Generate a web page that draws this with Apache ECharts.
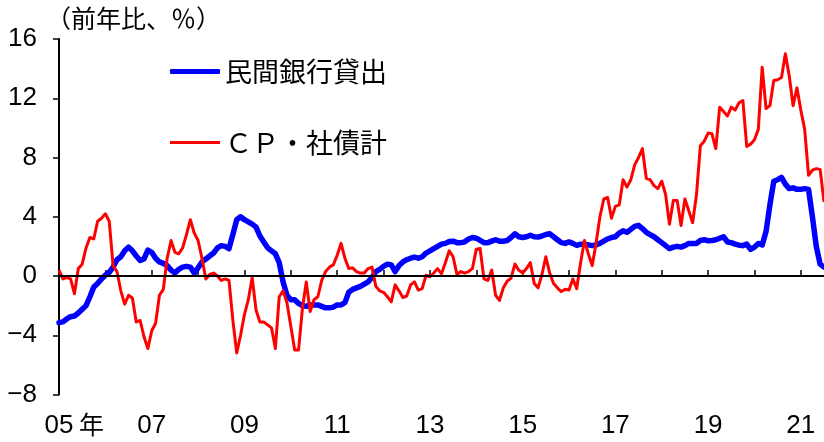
<!DOCTYPE html>
<html>
<head>
<meta charset="utf-8">
<script src="https://cdn.jsdelivr.net/npm/echarts@6/dist/echarts.min.js"></script>
<style>
  html, body { margin: 0; padding: 0; background: #fff; }
  #chart { width: 824px; height: 442px; }
</style>
</head>
<body>
<div id="chart"></div>
<script>
// 月次カテゴリ（2005年1月〜2021年7月）
const months = []
for (let i = 0; i < 199; i++) {
  months.push((2005 + Math.floor(i / 12)) + '/' + (i % 12 + 1))
}

// 横軸の年ラベル（2年おき）
const yearLabels = ['05', '07', '09', '11', '13', '15', '17', '19', '21']
const yTicks = [-8, -4, 0, 4, 8, 12, 16]

// 民間銀行貸出（前年比、%）
const bankLoans = [
  -3.15, -3.1, -2.9, -2.75, -2.7, -2.5, -2.25, -2.0, -1.4, -0.75, -0.5, -0.2,
  0.05, 0.25, 0.6, 1.1, 1.3, 1.7, 1.95, 1.7, 1.35, 1.05, 1.15, 1.75,
  1.6, 1.2, 0.95, 0.85, 0.7, 0.4, 0.2, 0.45, 0.6, 0.65, 0.6, 0.2,
  0.55, 0.95, 1.15, 1.35, 1.55, 1.9, 2.05, 2.0, 1.85, 2.8, 3.8, 4.0,
  3.8, 3.65, 3.5, 3.3, 2.7, 2.3, 1.9, 1.7, 1.5, 0.9, -0.4, -1.3,
  -1.6, -1.6, -1.85, -2.0, -2.05, -1.95, -1.95, -1.95, -2.05, -2.15, -2.15, -2.1,
  -1.95, -1.95, -1.8, -1.1, -0.9, -0.8, -0.7, -0.55, -0.4, -0.1, 0.3, 0.45,
  0.65, 0.8, 0.75, 0.3, 0.7, 0.95, 1.1, 1.2, 1.28, 1.2, 1.3, 1.55,
  1.7, 1.85, 2.0, 2.15, 2.2, 2.33, 2.35, 2.25, 2.25, 2.3, 2.5, 2.6,
  2.55, 2.4, 2.25, 2.25, 2.35, 2.45, 2.35, 2.35, 2.4, 2.6, 2.85, 2.65,
  2.6, 2.65, 2.75, 2.65, 2.63, 2.7, 2.8, 2.85, 2.65, 2.45, 2.25, 2.2,
  2.3, 2.2, 2.07, 2.15, 2.15, 2.1, 2.05, 2.1, 2.2, 2.35, 2.5, 2.6,
  2.65, 2.9, 3.05, 2.95, 3.15, 3.35, 3.42, 3.2, 2.95, 2.8, 2.65, 2.45,
  2.25, 2.05, 1.85, 1.95, 2.0, 1.95, 2.05, 2.2, 2.2, 2.2, 2.4, 2.45,
  2.38, 2.4, 2.45, 2.55, 2.65, 2.3, 2.25, 2.15, 2.08, 2.05, 2.15, 1.8,
  1.95, 2.2, 2.1, 3.0, 4.8, 6.4, 6.5, 6.65, 6.2, 5.9, 5.95, 5.85,
  5.85, 5.9, 5.85, 4.0, 2.0, 0.8, 0.6
]

// CP・社債計（前年比、%）
const cpBonds = [
  0.4, -0.2, -0.1, -0.2, -1.2, 0.5, 0.8, 1.9, 2.6, 2.5, 3.7, 3.9,
  4.2, 3.7, 0.7, 0.3, -1.0, -1.9, -1.3, -1.5, -3.1, -3.0, -4.1, -4.9,
  -3.7, -3.2, -1.3, -0.9, 1.2, 2.4, 1.6, 1.5, 1.9, 2.8, 3.8, 2.9,
  2.4, 1.2, -0.2, 0.1, 0.2, 0.0, -0.3, -0.2, -0.3, -3.0, -5.2, -4.0,
  -2.6, -1.6, -0.1, -2.3, -3.1, -3.1, -3.3, -3.5, -4.9, -1.4, -1.0, -1.8,
  -3.4, -5.0, -5.0, -2.2, -0.4, -2.4, -1.6, -1.4, -0.3, 0.3, 0.6, 0.75,
  1.4, 2.2, 1.2, 0.5, 0.55, 0.3, 0.2, 0.2, 0.5, 0.6, -0.7, -1.0,
  -1.1, -1.4, -1.75, -0.6, -1.0, -1.45, -1.35, -0.6, -0.4, -0.95, -0.85, 0.05,
  -0.05, 0.2, 0.5, 0.15, 0.9, 1.7, 1.3, 0.1, 0.3, 0.2, 0.3, 0.5,
  1.8, 1.85, -0.2, -0.3, 0.4, -1.3, -1.65, -0.8, -0.35, -0.15, 0.8, 0.4,
  0.2, 0.5, 0.9, -0.5, -0.8, 0.1, 1.3, 0.2, -0.5, -0.8, -1.05, -0.9,
  -0.95, -0.2, -0.85, 0.9, 2.4, 1.5, 0.7, 2.2, 4.0, 5.2, 5.3, 3.9,
  4.7, 4.8, 6.5, 6.0, 6.5, 7.5, 8.0, 8.6, 6.6, 6.5, 6.1, 5.9,
  6.4, 5.5, 3.5, 5.1, 5.1, 3.4, 5.2, 4.4, 3.6, 5.5, 8.8, 9.1,
  9.65, 9.6, 8.6, 11.4, 11.1, 10.8, 11.4, 11.2, 11.7, 11.85, 8.75, 8.9,
  9.2, 9.9, 14.1, 11.3, 11.5, 13.2, 13.25, 13.4, 15.0, 13.5, 11.5, 12.7,
  11.2, 9.9, 6.8, 7.15, 7.25, 7.2, 5.0
]

const numFont = '"Liberation Sans Narrow", "Liberation Sans", Arial, sans-serif'
const jpFont = '"Noto Sans CJK JP", sans-serif'

const chart = echarts.init(document.getElementById('chart'))

const option = {
  animation: false,
  backgroundColor: '#fff',
  title: {
    text: '（前年比、％）',
    left: 46,
    top: 6,
    padding: 0,
    textStyle: {
      fontFamily: jpFont,
      fontSize: 25,
      fontWeight: 'normal',
      color: '#000'
    }
  },
  legend: [
    {
      data: ['民間銀行貸出'],
      left: 170,
      top: 58,
      padding: 0,
      icon: 'roundRect',
      itemWidth: 50,
      itemHeight: 5,
      itemGap: 8,
      textStyle: { fontFamily: jpFont, fontSize: 27, color: '#000' }
    },
    {
      data: ['ＣＰ・社債計'],
      left: 170,
      top: 129,
      padding: 0,
      icon: 'rect',
      itemWidth: 50,
      itemHeight: 3,
      itemGap: 8,
      textStyle: { fontFamily: jpFont, fontSize: 27, color: '#000' }
    }
  ],
  grid: {
    left: 59,
    right: 0,
    top: 39,
    bottom: 47.5,
    containLabel: false
  },
  xAxis: {
    type: 'category',
    data: months,
    boundaryGap: false,
    axisLine: { lineStyle: { color: '#000', width: 2 } },
    axisTick: {
      inside: true,
      length: 6,
      interval: (index) => index % 12 === 0,
      lineStyle: { color: '#000', width: 1.5 }
    },
    axisLabel: {
      interval: (index) => index % 24 === 0,
      formatter: (value, index) => yearLabels[index / 24] || '',
      margin: 18,
      fontFamily: numFont,
      fontSize: 26,
      color: '#000'
    },
    splitLine: { show: false }
  },
  yAxis: {
    type: 'value',
    min: yTicks[0],
    max: yTicks[yTicks.length - 1],
    interval: 4,
    axisLine: { show: true, lineStyle: { color: '#000', width: 2 } },
    axisTick: {
      show: true,
      length: 6,
      lineStyle: { color: '#000', width: 1.5 }
    },
    axisLabel: {
      margin: 22,
      fontFamily: numFont,
      fontSize: 26,
      color: '#000',
      formatter: (v) => (v < 0 ? '−' + Math.abs(v) : String(v))
    },
    splitLine: { show: false }
  },
  graphic: [
    {
      type: 'text',
      left: 79,
      top: 412,
      style: {
        text: '年',
        font: '25px ' + jpFont,
        fill: '#000'
      }
    }
  ],
  series: [
    {
      name: '民間銀行貸出',
      type: 'line',
      data: bankLoans,
      showSymbol: false,
      symbol: 'none',
      color: '#0000ff',
      lineStyle: { color: '#0000ff', width: 5.5, join: 'round', cap: 'round' },
      z: 2
    },
    {
      name: 'ＣＰ・社債計',
      type: 'line',
      data: cpBonds,
      showSymbol: false,
      symbol: 'none',
      color: '#ff0000',
      lineStyle: { color: '#ff0000', width: 3, join: 'round' },
      z: 3,
      markLine: {
        silent: true,
        symbol: ['none', 'none'],
        label: { show: false },
        lineStyle: { color: '#000', width: 2, type: 'solid' },
        data: [{ yAxis: 0 }]
      }
    }
  ]
}

chart.setOption(option)
window.addEventListener('resize', () => chart.resize())
</script>
</body>
</html>
